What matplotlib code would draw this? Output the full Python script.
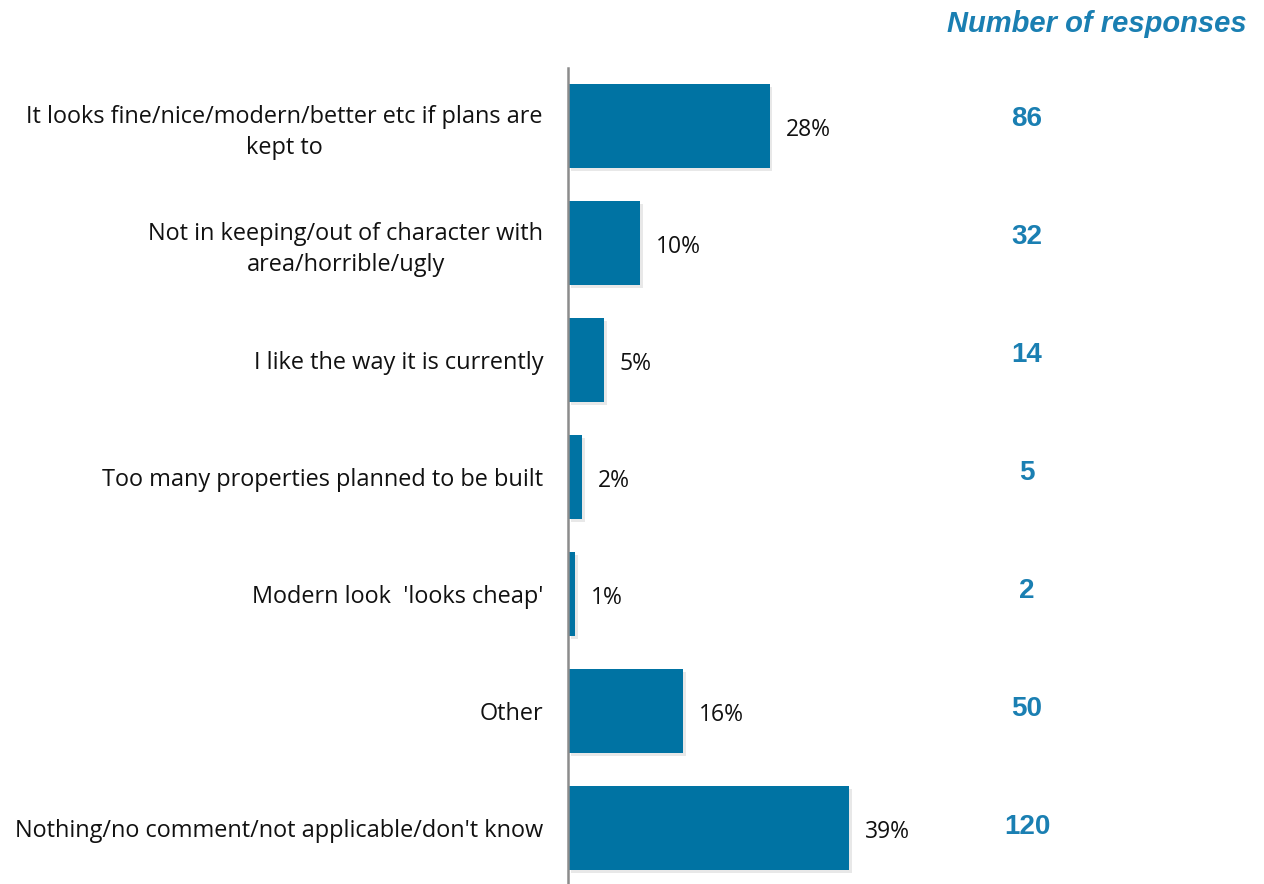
"""Horizontal bar chart of comment themes with response counts."""
import matplotlib
matplotlib.use("Agg")
import matplotlib.pyplot as plt
import matplotlib.patheffects as pe

categories = [
    "It looks fine/nice/modern/better etc if plans are\nkept to",
    "Not in keeping/out of character with\narea/horrible/ugly",
    "I like the way it is currently",
    "Too many properties planned to be built",
    "Modern look  'looks cheap'",
    "Other",
    "Nothing/no comment/not applicable/don't know",
]
percent = [28, 10, 5, 2, 1, 16, 39]
responses = [86, 32, 14, 5, 2, 50, 120]

BAR = "#0073a3"
NUM = "#1a7fb2"

plt.rcParams.update({"font.family": ["Open Sans", "DejaVu Sans"], "font.size": 13})

fig = plt.figure(figsize=(12.64, 8.84), dpi=100)
W, H = 1264, 884
ax = fig.add_axes([568 / W, (884 - 886.5) / H, 360 / W, 819 / H])

y = list(range(len(categories)))
bars = ax.barh(y, percent, height=0.72, color=BAR, zorder=2)
for b in bars:
    b.set_path_effects([pe.SimplePatchShadow(offset=(2, -2), alpha=0.12, shadow_rgbFace="#444444"), pe.Normal()])

ax.set_xlim(0, 50)
ax.set_ylim(len(categories) - 0.5, -0.5)
ax.set_xticks([])
ax.set_yticks(y)
ax.set_yticklabels(categories, ha="right", multialignment="center", linespacing=1.38)
ax.tick_params(axis="y", length=0, pad=18, labelsize=16.9, labelcolor="#111111")
for s in ["top", "right", "bottom"]:
    ax.spines[s].set_visible(False)
ax.spines["left"].set_color("#8c8c8c")
ax.spines["left"].set_linewidth(1.8)

for yi, v in zip(y, percent):
    ax.text(v + 2.2, yi + 0.03, f"{v}%", va="center", ha="left", fontsize=16.5, color="#111111")

for yi, n in zip(y, responses):
    ax.text(1027 / W, 1 - (119 + 118 * yi) / H, str(n), transform=fig.transFigure,
            ha="center", va="center", fontsize=20, fontweight="bold", color=NUM,
            family=["Liberation Sans", "DejaVu Sans"])

fig.text(1247 / W, 1 - 24 / H, "Number of responses", ha="right", va="center",
         fontsize=21, fontweight="bold", fontstyle="italic", color=NUM,
         family=["Liberation Sans", "DejaVu Sans"])

fig.savefig("out.png", dpi=100)
